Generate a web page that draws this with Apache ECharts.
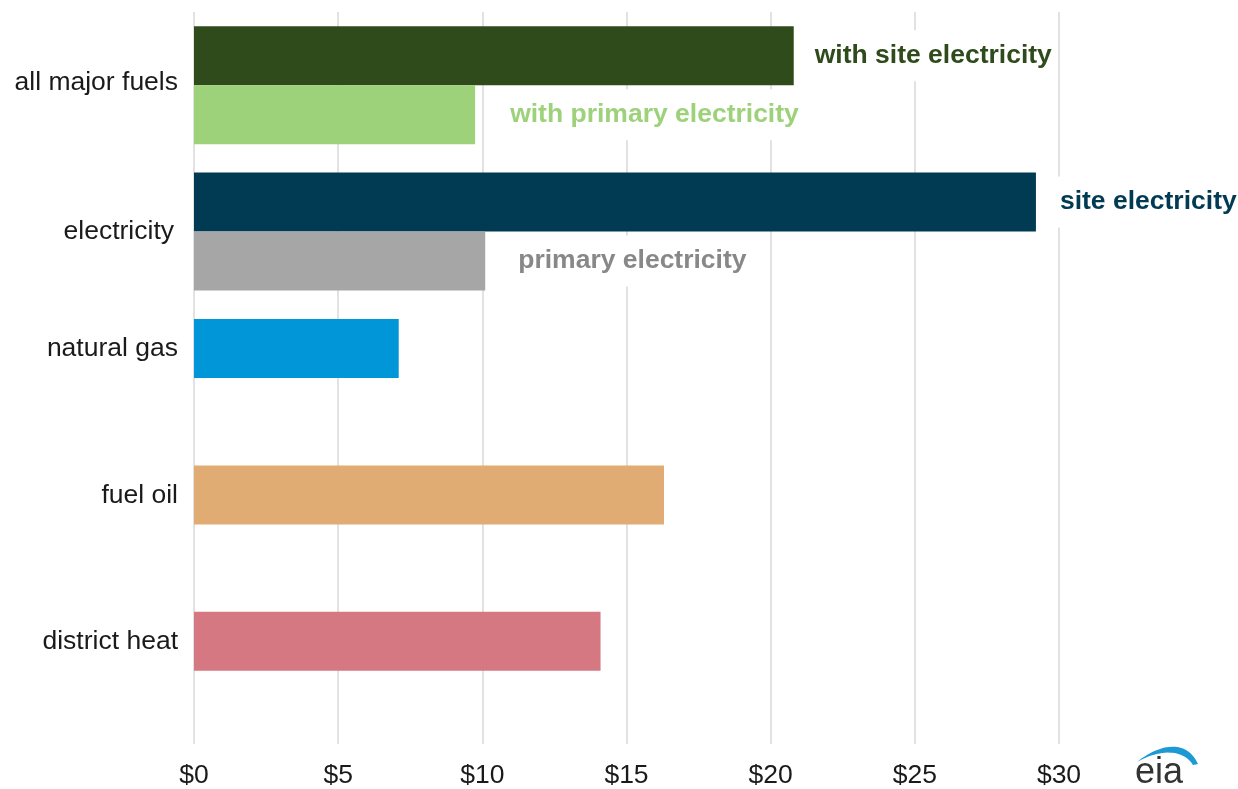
<!DOCTYPE html>
<html>
<head>
<meta charset="utf-8">
<title>Energy cost by fuel</title>
<script src="https://cdn.jsdelivr.net/npm/echarts@6/dist/echarts.min.js"></script>
<style>
  html, body { margin: 0; padding: 0; background: #ffffff; }
  #chart { width: 1238px; height: 789px; }
</style>
</head>
<body>
<div id="chart"></div>
<script>
// Categories, top to bottom
const categories = ['all major fuels', 'electricity', 'natural gas', 'fuel oil', 'district heat'];

// Upper bar in each category (site basis / single fuel value), dollars
const upperValues = [20.8, 29.2, 7.1, 16.3, 14.1];
// Lower bar (primary-electricity basis), only where it applies
const lowerValues = [9.75, 10.1, null, null, null];

const upperColors = ['#2f4b1c', '#003a53', '#0096d7', '#e1ab74', '#d57882'];
const lowerColors = ['#9dd17a', '#a6a6a6', null, null, null];

const upperLabels = ['with site electricity', 'site electricity', null, null, null];
const lowerLabels = ['with primary electricity', 'primary electricity', null, null, null];
const upperLabelColors = ['#2f4b1c', '#003a53'];
const lowerLabelColors = ['#9dd17a', '#888888'];
const upperLabelGap = [17, 20];
const lowerLabelGap = [31, 29];

const xTicks = [0, 5, 10, 15, 20, 25, 30];

const font = '"Liberation Sans", Arial, sans-serif';
const fs = 26.5;

function buildData(values, colors, labels, labelColors, gaps) {
  return values.map((v, i) => {
    if (v === null) return null;
    const item = { value: v, itemStyle: { color: colors[i] } };
    if (labels[i]) {
      item.label = {
        show: true,
        position: 'right',
        distance: gaps[i],
        formatter: labels[i],
        color: labelColors[i],
        fontFamily: font,
        fontSize: fs,
        fontWeight: 'bold',
        backgroundColor: '#ffffff',
        padding: [12, 4, 12, 4]
      };
    }
    return item;
  });
}

// categories holding only one bar get their name lifted to that bar's middle
const singleBar = lowerValues.map(v => v === null);

// logo swoosh: a thin crescent between two cubic curves
function cubic(p0, p1, p2, p3, t) {
  const u = 1 - t;
  return [
    u * u * u * p0[0] + 3 * u * u * t * p1[0] + 3 * u * t * t * p2[0] + t * t * t * p3[0],
    u * u * u * p0[1] + 3 * u * u * t * p1[1] + 3 * u * t * t * p2[1] + t * t * t * p3[1]
  ];
}
function swoosh() {
  const pts = [];
  const n = 24;
  for (let i = 0; i <= n; i++) pts.push(cubic([1137, 762], [1155, 747], [1185, 736], [1198, 764], i / n));
  for (let i = n; i >= 0; i--) pts.push(cubic([1137, 762], [1160, 749], [1183, 749], [1193, 765], i / n));
  return pts;
}

const chart = echarts.init(document.getElementById('chart'), null, { renderer: 'canvas' });

chart.setOption({
  backgroundColor: '#ffffff',
  animation: false,
  grid: { left: 194, right: 179, top: 12, bottom: 44, containLabel: false },
  xAxis: {
    type: 'value',
    min: xTicks[0],
    max: xTicks[xTicks.length - 1],
    interval: 5,
    axisLine: { show: false },
    axisTick: { show: false },
    splitLine: { show: true, lineStyle: { color: '#d9d9d9', width: 1.5 } },
    axisLabel: {
      margin: 18,
      color: '#1a1a1a',
      fontFamily: font,
      fontSize: fs,
      formatter: v => '$' + v
    }
  },
  yAxis: {
    type: 'category',
    inverse: true,
    data: categories,
    axisLine: { show: false },
    axisTick: { show: false },
    splitLine: { show: false },
    axisLabel: {
      margin: 16,
      color: '#1a1a1a',
      fontFamily: font,
      fontSize: fs,
      formatter: (name, idx) => {
        if (singleBar[idx]) return '{up|' + name + '}';
        if (name === 'electricity') return '{pad|' + name + '}';
        return '{n|' + name + '}';
      },
      rich: {
        n: { fontFamily: font, fontSize: fs, color: '#1a1a1a', padding: [0, 0, 6, 0] },
        pad: { fontFamily: font, fontSize: fs, color: '#1a1a1a', padding: [0, 4, 0, 0] },
        up: { fontFamily: font, fontSize: fs, color: '#1a1a1a', padding: [0, 0, 58, 0] }
      }
    }
  },
  series: [
    {
      name: 'upper',
      type: 'bar',
      barWidth: 59,
      barGap: '0%',
      data: buildData(upperValues, upperColors, upperLabels, upperLabelColors, upperLabelGap)
    },
    {
      name: 'lower',
      type: 'bar',
      barWidth: 59,
      barGap: '0%',
      data: buildData(lowerValues, lowerColors, lowerLabels, lowerLabelColors, lowerLabelGap)
    }
  ],
  graphic: [
    {
      type: 'polygon',
      shape: { points: swoosh() },
      style: { fill: '#1d9ad6' }
    },
    {
      type: 'text',
      style: {
        text: 'eia',
        x: 1135,
        y: 773,
        verticalAlign: 'middle',
        fill: '#333333',
        font: '36px "Liberation Sans", Arial, sans-serif'
      }
    }
  ]
});
</script>
</body>
</html>
